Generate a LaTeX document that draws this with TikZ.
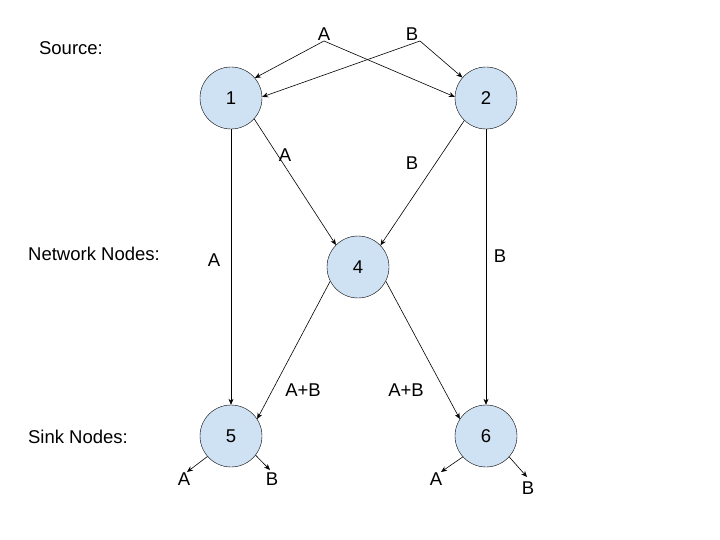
\documentclass[tikz,border=0pt]{standalone}
\usepackage{fontspec}
\setmainfont{Liberation Sans}
\usetikzlibrary{arrows.meta}
\definecolor{nodefill}{HTML}{CFE2F3}
\begin{document}
\begin{tikzpicture}[x=1pt,y=-1pt,
  netnode/.style={circle,draw=black,fill=nodefill,minimum size=62pt,inner sep=0pt,font=\fontsize{18.5}{22}\selectfont},
  lbl/.style={inner sep=0pt,font=\fontsize{18.5}{22}\selectfont},
  arr/.style={-{Stealth[length=6pt,width=5pt]},line width=0.6pt}]
\useasboundingbox[fill=white] (0,0) rectangle (720,540);
% row labels
\node[lbl] (src) at (71,48) {Source:};
\node[lbl] (net) at (94,254) {Network Nodes:};
\node[lbl] (snk) at (78,437) {Sink Nodes:};
% nodes
\node[netnode] (n1) at (231,98) {1};
\node[netnode] (n2) at (486,98) {2};
\node[netnode] (n4) at (358,267) {4};
\node[netnode] (n5) at (231,436) {5};
\node[netnode] (n6) at (486,436) {6};
% source labels
\node[lbl] (sa) at (324,34) {A};
\node[lbl] (sb) at (412,34) {B};
\coordinate (saf) at (324,41);
\coordinate (sbf) at (420,41);
\draw[arr] (saf) -- (n1.40);
\draw[arr] (saf) -- (n2.178);
\draw[arr] (sbf) -- (n2.139);
\draw[arr] (sbf) -- (n1.2);
% edges
\draw[arr] (n1.south) -- (n5.north);
\draw[arr] (n2.south) -- (n6.north);
\draw[arr] (n1.-42) -- (n4.135);
\draw[arr] (n2.-134) -- (n4.44);
\draw[arr] (n4.-153) -- (n5.33);
\draw[arr] (n4.-27) -- (n6.147);
% edge labels
\node[lbl] (l14) at (285,155) {A};
\node[lbl] (l24) at (412,163) {B};
\node[lbl] (l15) at (214,260) {A};
\node[lbl] (l26) at (500,256) {B};
\node[lbl] (l45) at (303,390) {A+B};
\node[lbl] (l46) at (406,390) {A+B};
% sink outputs
\node[lbl] (o5a) at (184,479) {A};
\node[lbl] (o5b) at (272,479) {B};
\node[lbl] (o6a) at (436,479) {A};
\node[lbl] (o6b) at (528,488) {B};
\coordinate (e5a) at (187,472);
\coordinate (e5b) at (270,470);
\coordinate (e6a) at (441,472);
\coordinate (e6b) at (527,477);
\draw[arr] (n5.-139) -- (e5a);
\draw[arr] (n5.-38) -- (e5b);
\draw[arr] (n6.-138) -- (e6a);
\draw[arr] (n6.-42) -- (e6b);
\end{tikzpicture}
\end{document}
